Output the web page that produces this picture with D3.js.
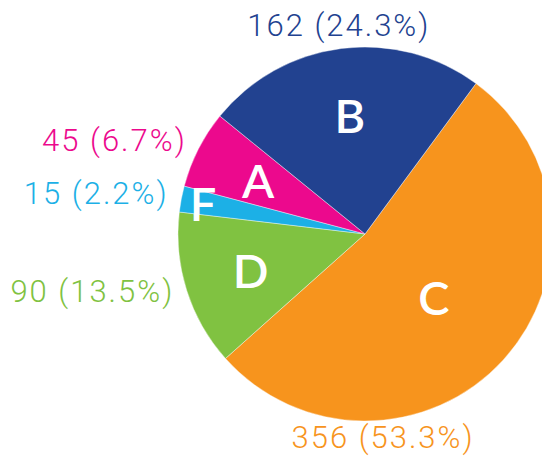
<!DOCTYPE html>
<html>
<head>
<meta charset="utf-8">
<script src="https://cdn.jsdelivr.net/npm/d3@7"></script>
<style>
  html, body { margin: 0; padding: 0; background: white; }
</style>
</head>
<body>
<div id="container"></div>
<script>
// data
let categories = ["C", "D", "F", "A", "B"];
let values = [356, 90, 15, 45, 162];
let percents = ["53.3%", "13.5%", "2.2%", "6.7%", "24.3%"];
let colors = ["#f7941d", "#80c241", "#1cb0e6", "#ec098d", "#224290"];

let w = 542;
let h = 459;
let cx = 365;
let cy = 234;
let r = 187;

let viz = d3.select("#container")
  .append("svg")
    .attr("width", w)
    .attr("height", h)
    .style("background-color", "white")
;

let deg = Math.PI / 180;

let pie = d3.pie()
  .sort(null)
  .value(function(d){ return d; })
  .startAngle(36.4 * deg)
  .endAngle(36.4 * deg + 2 * Math.PI)
;

let arcs = pie(values);

let arc = d3.arc().innerRadius(0).outerRadius(r);

let pieGroup = viz.append("g")
  .attr("transform", "translate(" + cx + ", " + cy + ")")
;

pieGroup.selectAll(".slice")
  .data(arcs)
  .enter()
  .append("path")
    .attr("class", "slice")
    .attr("d", arc)
    .attr("fill", function(d, i){ return colors[i]; })
    .attr("stroke", "white")
    .attr("stroke-width", 0.4)
;

// letter inside each slice, most at the same radius, a couple nudged
let letterRadius = { C: 93, F: 165 };
function letterPos(d, i){
  let rr = letterRadius[categories[i]] || 120;
  let a = (d.startAngle + d.endAngle) / 2;
  return [Math.sin(a) * rr, -Math.cos(a) * rr];
}

pieGroup.selectAll(".letter")
  .data(arcs)
  .enter()
  .append("text")
    .attr("class", "letter")
    .text(function(d, i){ return categories[i]; })
    .attr("x", function(d, i){ return letterPos(d, i)[0]; })
    .attr("y", function(d, i){ return letterPos(d, i)[1]; })
    .attr("text-anchor", "middle")
    .attr("dominant-baseline", "central")
    .attr("font-family", "Lato, sans-serif")
    .attr("font-weight", 600)
    .attr("font-size", 47)
    .attr("fill", "white")
;

// value labels outside the pie
// side labels sit a bit closer than the top/bottom ones
let labelAngle = { C: 175 * deg };
function labelPos(d, i){
  let a = labelAngle[categories[i]];
  if (a === undefined) a = (d.startAngle + d.endAngle) / 2;
  let side = Math.abs(Math.sin(a)) > 0.3;
  let rr = side ? 200 : 207;
  return [Math.sin(a) * rr, -Math.cos(a) * rr];
}
function labelAnchor(d, i){
  let p = labelPos(d, i);
  if (Math.abs(p[0]) < 60) return "middle";
  return p[0] < 0 ? "end" : "start";
}

pieGroup.selectAll(".valueLabel")
  .data(arcs)
  .enter()
  .append("text")
    .attr("class", "valueLabel")
    .text(function(d, i){ return values[i] + " (" + percents[i] + ")"; })
    .attr("x", function(d, i){ return labelPos(d, i)[0]; })
    .attr("y", function(d, i){ return labelPos(d, i)[1] - 3; })
    .attr("text-anchor", labelAnchor)
    .attr("dominant-baseline", "central")
    .attr("font-family", "Roboto, 'Liberation Sans', sans-serif")
    .attr("font-weight", 300)
    .attr("font-size", 31)
    .attr("letter-spacing", 2)
    .attr("fill", function(d, i){ return colors[i]; })
;
</script>
</body>
</html>
